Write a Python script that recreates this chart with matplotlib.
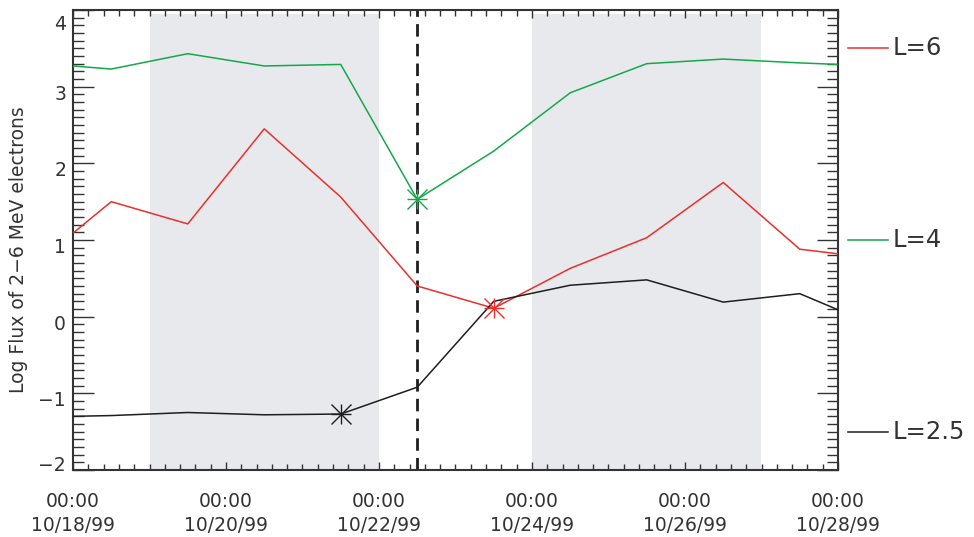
import matplotlib
matplotlib.use('Agg')
from matplotlib import pyplot as plt
from matplotlib import transforms
from matplotlib.ticker import MultipleLocator
import numpy as np

# days since 10/18/99 00:00
days = [0.0, 0.5, 1.5, 2.5, 3.5, 4.5, 5.5, 6.5, 7.5, 8.5, 9.5, 10.0]

flux_l6 = [1.09, 1.50, 1.21, 2.45, 1.56, 0.40, 0.11, 0.63, 1.03, 1.75, 0.88, 0.82]
flux_l4 = [3.27, 3.23, 3.43, 3.27, 3.29, 1.53, 2.16, 2.92, 3.30, 3.36, 3.31, 3.29]
flux_l25 = [-1.30, -1.29, -1.25, -1.28, -1.27, -0.92, 0.20, 0.41, 0.48, 0.19, 0.30, 0.09]

# index of the asterisk on each curve
star_l6 = 6
star_l4 = 5
star_l25 = 4

shade_spans = [(1.0, 4.0), (6.0, 9.0)]
event_day = 4.5

tick_days = [0, 2, 4, 6, 8, 10]
tick_labels = ['00:00\n10/18/99', '00:00\n10/20/99', '00:00\n10/22/99',
               '00:00\n10/24/99', '00:00\n10/26/99', '00:00\n10/28/99']
ytick_vals = [-2, -1, 0, 1, 2, 3, 4]
ytick_labels = ['\u22122', '\u22121', '0', '1', '2', '3', '4']

legend_names = ['L=6', 'L=4', 'L=2.5']
legend_y = [3.5, 1.0, -1.5]

red = '#e8302c'
green = '#14a84a'
black = '#1e1e1e'
txtcol = '#333333'

#####

plt.rcParams['font.family'] = ['DejaVu Sans']

fig = plt.figure(figsize=(9.74, 5.37), dpi=100)
ax = fig.add_axes([73/974, 1-470/537, 765/974, 460/537])

for x0, x1 in shade_spans:
    ax.fill_between([x0, x1], -2, 3.95, color='#e8e9ed', lw=0, zorder=0)

ax.axvline(event_day, color=black, lw=2.0, linestyle=(0, (4.5, 2.6)), zorder=2)

lw = 1.1
for vals, col, istar in [(flux_l6, red, star_l6), (flux_l4, green, star_l4), (flux_l25, black, star_l25)]:
    ax.plot(days, vals, color=col, lw=lw, zorder=3)
    for mk in ['+', 'x']:
        ax.plot(days[istar], vals[istar], marker=mk, ms=15, mew=1.0, color=col,
                linestyle='none', zorder=4)

ax.set_xlim(0, 10)
ax.set_ylim(-2, 4)
ax.set_xticks(tick_days)
ax.set_xticklabels(tick_labels, fontsize=13.5, color=txtcol, linespacing=1.3)
ax.xaxis.set_minor_locator(MultipleLocator(0.2))
ax.set_yticks(ytick_vals)
ax.set_yticklabels(ytick_labels)
ax.yaxis.set_minor_locator(MultipleLocator(0.1))

ax.tick_params(axis='x', which='major', direction='in', length=6, width=1.0,
               top=True, pad=16, colors=txtcol)
ax.tick_params(axis='x', which='minor', direction='in', length=4, width=1.0, top=True,
               colors=txtcol)
ax.tick_params(axis='y', which='major', direction='in', length=15, width=1.0,
               right=True, pad=5, labelsize=13.5, colors=txtcol)
ax.tick_params(axis='y', which='minor', direction='in', length=8, width=1.0, right=True,
               colors=txtcol)
for sp in ax.spines.values():
    sp.set_linewidth(1.5)
    sp.set_color(txtcol)

# y labels sit a little below their ticks, end labels kept inside the frame
for lab in ax.get_yticklabels():
    txt = lab.get_text()
    if txt == '4':
        dy = -9
    elif txt == '\u22122':
        dy = 5
    else:
        dy = -4
    lab.set_transform(lab.get_transform() + transforms.ScaledTranslation(0, dy/72, fig.dpi_scale_trans))

ax.set_ylabel('Log Flux of 2\u22126 MeV electrons', fontsize=13.5, color=txtcol)
ax.yaxis.set_label_coords(-0.059, 0.478)

# labels at the right of the plot
trans = transforms.blended_transform_factory(ax.transAxes, ax.transData)
for name, yy, col in zip(legend_names, legend_y, [red, green, black]):
    ax.plot([1.013, 1.066], [yy, yy], color=col, lw=1.1, transform=trans, clip_on=False)
    ax.text(1.072, yy, name, transform=trans, fontsize=17.5, color=txtcol,
            va='center', ha='left')

fig.savefig('out.png', dpi=100)
